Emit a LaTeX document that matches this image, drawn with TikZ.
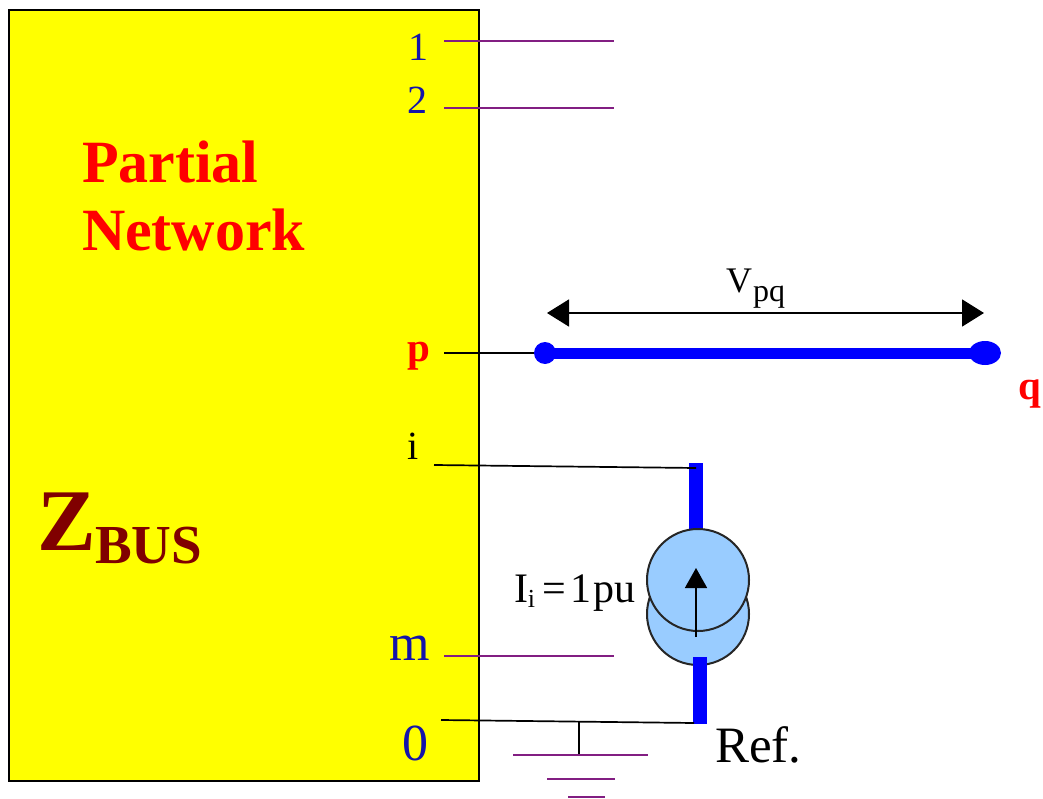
\documentclass[tikz,border=0pt]{standalone}
\usepackage{fontspec}
\setmainfont{Liberation Serif}
\usetikzlibrary{arrows.meta}
\definecolor{busline}{RGB}{130,30,130}
\definecolor{srcfill}{RGB}{153,204,255}
\definecolor{labelblue}{RGB}{20,20,170}
\definecolor{zdark}{RGB}{128,0,0}
\definecolor{boxyellow}{RGB}{255,255,0}
\newcommand{\fs}[1]{\fontsize{#1}{#1}\selectfont}
\tikzset{
  x=1pt,y=-1pt,
  txt/.style={inner sep=0pt,outer sep=0pt,anchor=base west},
  idx/.style={txt,text=labelblue},
  redlbl/.style={txt,text=red,font=\fs{41}\bfseries},
  stub/.style={busline,line width=1.5pt},
  wire/.style={black,line width=1.7pt},
  thick blue/.style={blue,line width=14pt},
  source/.style={draw=black!85,line width=2pt,fill=srcfill,circle,minimum size=102pt,inner sep=0pt},
  pt/.style={inner sep=0pt,minimum size=0pt}
}
\begin{document}
\begin{tikzpicture}
\useasboundingbox (0,0) rectangle (1043,799);
\fill[white] (0,0) rectangle (1043,799);
% box
\node[draw=black,line width=1.8pt,fill=boxyellow,minimum width=470pt,minimum height=771pt,inner sep=0pt,outer sep=0pt,anchor=north west] (box) at (9,10) {};
% labels
\node[txt,text=red,font=\fs{60}\bfseries] (partial) at (82,183) {Partial};
\node[txt,text=red,font=\fs{60}\bfseries] (network) at (82,251) {Network};
\node[txt,text=zdark,font=\fs{88}\bfseries] (z) at (37,550) {Z};
\node[txt,text=zdark,font=\fs{55}\bfseries] (bus) at (95,563) {BUS};
\node[idx,font=\fs{40}] (n1) at (408,61) {1};
\node[idx,font=\fs{40}] (n2) at (407,114) {2};
\node[redlbl] (np) at (407,361) {p};
\node[txt,font=\fs{40}] (ni) at (407,459) {i};
\node[idx,font=\fs{52}] (nm) at (389,660) {m};
\node[idx,font=\fs{52}] (n0) at (402,760) {0};
\node[redlbl] (nq) at (1018,399) {q};
\node[txt,font=\fs{51}] (ref) at (715,762) {Ref.};
\node[txt,font=\fs{42}] (ii) at (514,602) {I\raisebox{-5pt}{\fs{26}i}\hspace{7pt}=\hspace{5pt}1\hspace{2pt}pu};
\node[txt,font=\fs{36}] (vpq) at (726,293) {V\hspace{1pt}\raisebox{-9pt}{\fs{32}pq}};
% coordinates
\foreach \n/\a/\b/\y in {a/444/614/41,b/444/614/108,c/444/614/656}{
  \coordinate (\n l) at (\a,\y);
  \coordinate (\n r) at (\b,\y);
  \draw[stub] (\n l) -- (\n r);
}
% p-q branch
\coordinate (pw) at (444,353);
\node[pt] (pdot) at (545,353) {};
\node[pt] (qdot) at (985,353) {};
\draw[wire] (pw) -- (pdot);
\draw[blue,line width=11pt] (pdot) -- (qdot);
\fill[blue] (pdot) circle[radius=11pt];
\fill[blue] (qdot) ellipse[x radius=16pt,y radius=12pt];
\coordinate (vl) at (547,313);
\coordinate (vr) at (984,313);
\draw[wire,{Triangle[length=22pt,width=27pt]}-{Triangle[length=22pt,width=27pt]}] (vl) -- (vr);
% source
\coordinate (itop) at (696,463);
\coordinate (ibot) at (696,535);
\draw[thick blue] (itop) -- (ibot);
\node[source] (srcb) at (698,614) {};
\node[source] (srct) at (698,580) {};
\coordinate (iw) at (434,465);
\coordinate (iwr) at (696,468);
\draw[wire] (iw) -- (iwr);
\coordinate (atail) at (696,637);
\coordinate (ahead) at (696,568);
\draw[black,line width=1.7pt,-{Triangle[length=20pt,width=22pt]}] (atail) -- (ahead);
\coordinate (btop) at (700,657);
\coordinate (bbot) at (700,724);
\draw[thick blue] (btop) -- (bbot);
% reference
\coordinate (zw) at (441,720);
\coordinate (zwr) at (694,723);
\draw[wire] (zw) -- (zwr);
\coordinate (gtop) at (579,722);
\coordinate (gbot) at (579,755);
\draw[wire] (gtop) -- (gbot);
\foreach \n/\a/\b/\y/\w in {g/513/648/755/1.6,h/547/615/779/1.6,k/568/605/797/2.4}{
  \coordinate (\n l) at (\a,\y);
  \coordinate (\n r) at (\b,\y);
  \draw[busline,line width=\w pt] (\n l) -- (\n r);
}
\end{tikzpicture}
\end{document}
